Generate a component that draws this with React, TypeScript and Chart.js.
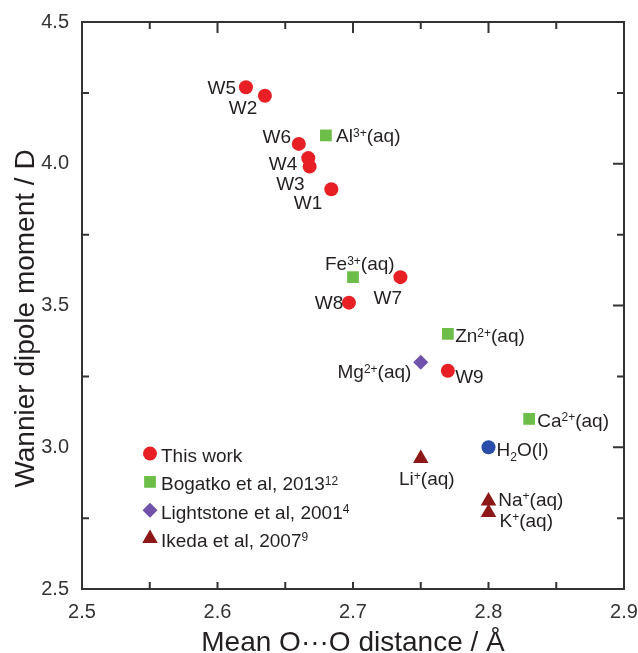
import React, { useEffect, useRef } from 'react';
import { Chart, registerables } from 'chart.js';

Chart.register(...registerables);

const FONT = '"Liberation Sans", Arial, Helvetica, sans-serif';

// ---------- data ----------
const thisWorkNames = ['W1', 'W2', 'W3', 'W4', 'W5', 'W6', 'W7', 'W8', 'W9'];
const thisWorkX = [2.684, 2.635, 2.668, 2.667, 2.621, 2.66, 2.735, 2.697, 2.77];
const thisWorkY = [3.91, 4.24, 3.99, 4.02, 4.27, 4.07, 3.6, 3.51, 3.27];

const waterNames = ['H2O'];
const waterX = [2.8];
const waterY = [3.0];

const bogatkoNames = ['Al3+', 'Fe3+', 'Zn2+', 'Ca2+'];
const bogatkoX = [2.68, 2.7, 2.77, 2.83];
const bogatkoY = [4.1, 3.6, 3.4, 3.1];

const lightstoneNames = ['Mg2+'];
const lightstoneX = [2.75];
const lightstoneY = [3.3];

const ikedaNames = ['Li+', 'Na+', 'K+'];
const ikedaX = [2.75, 2.8, 2.8];
const ikedaY = [2.96, 2.81, 2.77];

const xTicks = [2.5, 2.6, 2.7, 2.8, 2.9];
const yTicks = [2.5, 3.0, 3.5, 4.0, 4.5];

const xTitle = 'Mean O\u00B7\u00B7\u00B7O distance / \u00C5';
const yTitle = 'Wannier dipole moment / D';

// ---------- text / style ----------
type Part = { t: string; k?: 'sup' | 'sub' };
const labelParts: Record<string, Part[]> = {
  W1: [{ t: 'W1' }], W2: [{ t: 'W2' }], W3: [{ t: 'W3' }], W4: [{ t: 'W4' }], W5: [{ t: 'W5' }],
  W6: [{ t: 'W6' }], W7: [{ t: 'W7' }], W8: [{ t: 'W8' }], W9: [{ t: 'W9' }],
  H2O: [{ t: 'H' }, { t: '2', k: 'sub' }, { t: 'O(l)' }],
  'Al3+': [{ t: 'Al' }, { t: '3+', k: 'sup' }, { t: '(aq)' }],
  'Fe3+': [{ t: 'Fe' }, { t: '3+', k: 'sup' }, { t: '(aq)' }],
  'Zn2+': [{ t: 'Zn' }, { t: '2+', k: 'sup' }, { t: '(aq)' }],
  'Ca2+': [{ t: 'Ca' }, { t: '2+', k: 'sup' }, { t: '(aq)' }],
  'Mg2+': [{ t: 'Mg' }, { t: '2+', k: 'sup' }, { t: '(aq)' }],
  'Li+': [{ t: 'Li' }, { t: '+', k: 'sup' }, { t: '(aq)' }],
  'Na+': [{ t: 'Na' }, { t: '+', k: 'sup' }, { t: '(aq)' }],
  'K+': [{ t: 'K' }, { t: '+', k: 'sup' }, { t: '(aq)' }],
};
type Anchor = { dx: number; dy: number; align: 'left' | 'right' | 'center' };
const labelAnchor: Record<string, Anchor> = {
  W1: { dx: -9, dy: 12.7, align: 'right' },
  W2: { dx: -7.7, dy: 11.7, align: 'right' },
  W3: { dx: -5, dy: 16.7, align: 'right' },
  W4: { dx: -11, dy: 5.3, align: 'right' },
  W5: { dx: -10, dy: 0, align: 'right' },
  W6: { dx: -7.7, dy: -7.3, align: 'right' },
  W7: { dx: 1.6, dy: 19.7, align: 'right' },
  W8: { dx: -5.7, dy: 0, align: 'right' },
  W9: { dx: 7.3, dy: 5.7, align: 'left' },
  H2O: { dx: 8.1, dy: 2.3, align: 'left' },
  'Al3+': { dx: 10.2, dy: 0, align: 'left' },
  'Fe3+': { dx: -28, dy: -13.7, align: 'left' },
  'Zn2+': { dx: 7.3, dy: 1.7, align: 'left' },
  'Ca2+': { dx: 8.1, dy: 1, align: 'left' },
  'Mg2+': { dx: -9.4, dy: 9.3, align: 'right' },
  'Li+': { dx: 6.1, dy: 20, align: 'center' },
  'Na+': { dx: 9.8, dy: -2.3, align: 'left' },
  'K+': { dx: 11, dy: 7.7, align: 'left' },
};

const RED = 'rgb(232,32,38)';
const GREEN = 'rgb(108,190,72)';
const PURPLE = 'rgb(112,82,170)';
const DARKRED = 'rgb(140,24,24)';
const BLUE = 'rgb(40,78,170)';
const TEXT = '#231f20';
const AXIS = '#333333';

type Series = { label: string; names: string[]; xs: number[]; ys: number[]; color: string; shape: string; r: number; legend: Part[] | null };
const series: Series[] = [
  { label: 'This work', names: thisWorkNames, xs: thisWorkX, ys: thisWorkY, color: RED, shape: 'circle', r: 7, legend: [{ t: 'This work' }] },
  { label: 'H2O', names: waterNames, xs: waterX, ys: waterY, color: BLUE, shape: 'circle', r: 7, legend: null },
  { label: 'Bogatko et al, 2013', names: bogatkoNames, xs: bogatkoX, ys: bogatkoY, color: GREEN, shape: 'rect', r: 8.3, legend: [{ t: 'Bogatko et al, 2013' }, { t: '12', k: 'sup' }] },
  { label: 'Lightstone et al, 2001', names: lightstoneNames, xs: lightstoneX, ys: lightstoneY, color: PURPLE, shape: 'rectRot', r: 7.5, legend: [{ t: 'Lightstone et al, 2001' }, { t: '4', k: 'sup' }] },
  { label: 'Ikeda et al, 2007', names: ikedaNames, xs: ikedaX, ys: ikedaY, color: DARKRED, shape: 'triangle', r: 9, legend: [{ t: 'Ikeda et al, 2007' }, { t: '9', k: 'sup' }] },
];

function drawParts(ctx: CanvasRenderingContext2D, parts: Part[], x: number, yCenter: number, align: string, size: number) {
  const main = `${size}px ${FONT}`;
  const small = `${Math.round(size * 0.63)}px ${FONT}`;
  let w = 0;
  const widths = parts.map((p) => {
    ctx.font = p.k ? small : main;
    const m = ctx.measureText(p.t).width;
    w += m;
    return m;
  });
  let cx = align === 'left' ? x : align === 'right' ? x - w : x - w / 2;
  const base = yCenter + size * 0.358;
  ctx.textAlign = 'left';
  ctx.textBaseline = 'alphabetic';
  ctx.fillStyle = TEXT;
  parts.forEach((p, i) => {
    ctx.font = p.k ? small : main;
    const yy = p.k === 'sup' ? base - size * 0.3 : p.k === 'sub' ? base + size * 0.22 : base;
    ctx.fillText(p.t, cx, yy);
    cx += widths[i];
  });
}

function drawMarker(ctx: CanvasRenderingContext2D, shape: string, x: number, y: number, r: number, color: string) {
  ctx.fillStyle = color;
  ctx.beginPath();
  if (shape === 'circle') {
    ctx.arc(x, y, r, 0, Math.PI * 2);
  } else if (shape === 'rect') {
    const s = Math.SQRT1_2 * r;
    ctx.rect(x - s, y - s, 2 * s, 2 * s);
  } else if (shape === 'rectRot') {
    ctx.moveTo(x, y - r);
    ctx.lineTo(x + r, y);
    ctx.lineTo(x, y + r);
    ctx.lineTo(x - r, y);
    ctx.closePath();
  } else if (shape === 'triangle') {
    for (let i = 0; i < 3; i++) {
      const a = (i * 2 * Math.PI) / 3;
      const px = x + Math.sin(a) * r;
      const py = y - Math.cos(a) * r;
      if (i === 0) ctx.moveTo(px, py);
      else ctx.lineTo(px, py);
    }
    ctx.closePath();
  }
  ctx.fill();
}

const decorPlugin = {
  id: 'decor',
  afterDraw(chart: any) {
    const ctx: CanvasRenderingContext2D = chart.ctx;
    const { left, right, top, bottom } = chart.chartArea;
    const xs = chart.scales.x;
    const ys = chart.scales.y;
    ctx.save();
    // frame
    ctx.strokeStyle = AXIS;
    ctx.lineWidth = 2;
    ctx.strokeRect(left, top, right - left, bottom - top);
    // ticks (inward)
    ctx.beginPath();
    xTicks.forEach((v, i) => {
      const px = xs.getPixelForValue(v);
      if (i > 0 && i < xTicks.length - 1) {
        ctx.moveTo(px, top); ctx.lineTo(px, top + 11);
        ctx.moveTo(px, bottom); ctx.lineTo(px, bottom - 7);
      }
      if (i < xTicks.length - 1) {
        const m = xs.getPixelForValue((v + xTicks[i + 1]) / 2);
        ctx.moveTo(m, top); ctx.lineTo(m, top + 7);
        ctx.moveTo(m, bottom); ctx.lineTo(m, bottom - 7);
      }
    });
    yTicks.forEach((v, i) => {
      const py = ys.getPixelForValue(v);
      if (i > 0 && i < yTicks.length - 1) {
        ctx.moveTo(right, py); ctx.lineTo(right - 11, py);
      }
      if (i < yTicks.length - 1) {
        const m = ys.getPixelForValue((v + yTicks[i + 1]) / 2);
        ctx.moveTo(right, m); ctx.lineTo(right - 7, m);
        ctx.moveTo(left, m); ctx.lineTo(left + 7, m);
      }
    });
    ctx.stroke();

    // point labels
    chart.data.datasets.forEach((ds: any, di: number) => {
      const meta = chart.getDatasetMeta(di);
      const s = series[di];
      meta.data.forEach((el: any, i: number) => {
        const name = s.names[i];
        const a = labelAnchor[name];
        drawParts(ctx, labelParts[name], el.x + a.dx, el.y + a.dy, a.align, 19);
      });
    });

    // legend
    const lx = left + 68;
    let ly = top + 431.6;
    series.forEach((s) => {
      if (!s.legend) return;
      drawMarker(ctx, s.shape, lx, ly, s.r, s.color);
      drawParts(ctx, s.legend, lx + 11, ly + 1.5, 'left', 19);
      ly += 28.3;
    });

    // axis titles
    ctx.fillStyle = TEXT;
    ctx.font = `28px ${FONT}`;
    ctx.textAlign = 'center';
    ctx.textBaseline = 'alphabetic';
    ctx.fillText(xTitle, (left + right) / 2, 651);
    ctx.translate(33.5, 318.5);
    ctx.rotate(-Math.PI / 2);
    ctx.fillText(yTitle, 0, 0);
    ctx.restore();
  },
};

export default function App() {
  const ref = useRef<HTMLCanvasElement | null>(null);
  useEffect(() => {
    if (!ref.current) return;
    const chart = new Chart(ref.current, {
      type: 'scatter',
      data: {
        datasets: series.map((s) => ({
          label: s.label,
          data: s.xs.map((x, i) => ({ x, y: s.ys[i] })),
          pointStyle: s.shape as any,
          pointRadius: s.r,
          pointHoverRadius: s.r,
          pointBackgroundColor: s.color,
          pointBorderWidth: 0,
          borderWidth: 0,
        })),
      },
      options: {
        animation: false,
        responsive: false,
        layout: { padding: { top: 22, right: 14, left: 0, bottom: 0 } },
        plugins: { legend: { display: false }, tooltip: { enabled: false } },
        events: [],
        scales: {
          x: {
            type: 'linear',
            min: 2.5,
            max: 2.9,
            grid: { display: false, drawTicks: false, tickLength: 0 },
            border: { display: false },
            afterFit: (s: any) => {
              s.height = 64;
              s.paddingLeft = 0;
              s.paddingRight = 0;
            },
            afterBuildTicks: (s: any) => { s.ticks = xTicks.map((v) => ({ value: v })); },
            ticks: {
              padding: 11,
              color: AXIS,
              font: { family: FONT, size: 20 },
              callback: (v: any) => Number(v).toFixed(1),
            },
          },
          y: {
            type: 'linear',
            min: 2.5,
            max: 4.5,
            grid: { display: false, drawTicks: false, tickLength: 0 },
            border: { display: false },
            afterFit: (s: any) => {
              s.width = 82;
              s.paddingTop = 0;
              s.paddingBottom = 0;
            },
            afterBuildTicks: (s: any) => { s.ticks = yTicks.map((v) => ({ value: v })); },
            ticks: {
              padding: 13,
              color: AXIS,
              font: { family: FONT, size: 20 },
              callback: (v: any) => Number(v).toFixed(1),
            },
          },
        },
      },
      plugins: [decorPlugin],
    });
    return () => chart.destroy();
  }, []);
  return (
    <div style={{ position: 'absolute', left: 0, top: 0, width: 638, height: 653, background: '#fff' }}>
      <canvas ref={ref} width={638} height={653} style={{ display: 'block' }} />
    </div>
  );
}
